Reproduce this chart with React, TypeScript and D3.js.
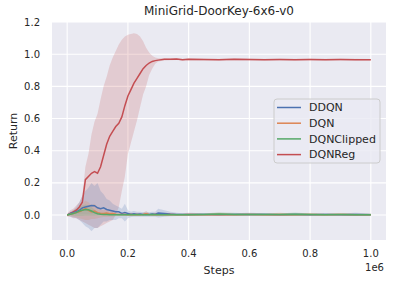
import React from "react";
import * as d3 from "d3";

const title = "MiniGrid-DoorKey-6x6-v0";
const seriesNames = ["DDQN", "DQN", "DQNClipped", "DQNReg"];
const seriesColors = ["#4c72b0", "#dd8452", "#55a868", "#c44e52"];
const xTicks = [0, 0.2, 0.4, 0.6, 0.8, 1.0];
const yTicks = [0, 0.2, 0.4, 0.6, 0.8, 1.0, 1.2];

// steps in units of 1e6
const steps = [0, 0.01, 0.02, 0.03, 0.04, 0.05, 0.06, 0.07, 0.08, 0.09, 0.10, 0.11, 0.12, 0.13, 0.14, 0.15, 0.16, 0.17, 0.18, 0.19, 0.20, 0.21, 0.22, 0.23, 0.24, 0.25, 0.26, 0.27, 0.28, 0.29, 0.30, 0.32, 0.34, 0.36, 0.38, 0.40, 0.45, 0.50, 0.55, 0.60, 0.65, 0.70, 0.75, 0.80, 0.85, 0.90, 0.95, 1.00];

const ddqnMean = [0, 0.01, 0.015, 0.02, 0.03, 0.045, 0.05, 0.055, 0.06, 0.058, 0.045, 0.04, 0.045, 0.035, 0.03, 0.025, 0.02, 0.02, 0.01, 0.015, 0.01, 0.005, 0.008, 0.005, 0.006, 0.004, 0.005, 0.004, 0.006, 0.005, 0.012, 0.01, 0.006, 0.004, 0.003, 0.004, 0.003, 0.002, 0.003, 0.004, 0.003, 0.002, 0.003, 0.002, 0.003, 0.002, 0.004, 0.002];
const ddqnUpper = [0, 0.02, 0.03, 0.05, 0.08, 0.12, 0.15, 0.17, 0.2, 0.18, 0.2, 0.15, 0.13, 0.1, 0.09, 0.07, 0.06, 0.05, 0.04, 0.07, 0.03, 0.02, 0.025, 0.02, 0.02, 0.018, 0.02, 0.018, 0.02, 0.02, 0.04, 0.03, 0.02, 0.015, 0.012, 0.014, 0.012, 0.01, 0.012, 0.014, 0.012, 0.01, 0.012, 0.01, 0.012, 0.01, 0.014, 0.01];
const ddqnLower = [0, -0.01, -0.015, -0.02, -0.03, -0.05, -0.07, -0.08, -0.1, -0.08, -0.08, -0.06, -0.04, -0.04, -0.03, -0.03, -0.03, -0.02, -0.02, -0.04, -0.02, -0.012, -0.01, -0.01, -0.01, -0.01, -0.01, -0.01, -0.01, -0.01, -0.015, -0.01, -0.008, -0.006, -0.005, -0.006, -0.005, -0.005, -0.005, -0.006, -0.005, -0.005, -0.005, -0.005, -0.005, -0.005, -0.006, -0.005];

const dqnMean = [0, 0.005, 0.01, 0.015, 0.02, 0.03, 0.04, 0.03, 0.02, 0.025, 0.015, 0.01, 0.01, 0.012, 0.008, 0.01, 0.005, 0.004, 0.003, 0.003, 0.002, 0.003, 0.002, 0.003, 0.002, 0.004, 0.008, 0.003, 0.002, 0.003, 0.002, 0.002, 0.003, 0.002, 0.002, 0.003, 0.002, 0.004, 0.002, 0.003, 0.002, 0.004, 0.002, 0.003, 0.002, 0.003, 0.002, 0.002];
const dqnUpper = [0, 0.015, 0.03, 0.04, 0.05, 0.07, 0.09, 0.08, 0.06, 0.07, 0.05, 0.035, 0.03, 0.035, 0.025, 0.03, 0.02, 0.015, 0.012, 0.012, 0.01, 0.012, 0.01, 0.012, 0.01, 0.015, 0.025, 0.012, 0.01, 0.012, 0.01, 0.01, 0.012, 0.01, 0.01, 0.012, 0.01, 0.015, 0.01, 0.012, 0.01, 0.015, 0.01, 0.012, 0.01, 0.012, 0.01, 0.01];
const dqnLower = [0, -0.005, -0.01, -0.015, -0.02, -0.025, -0.03, -0.03, -0.025, -0.025, -0.02, -0.015, -0.012, -0.012, -0.01, -0.01, -0.008, -0.007, -0.006, -0.006, -0.005, -0.005, -0.005, -0.005, -0.005, -0.005, -0.006, -0.005, -0.005, -0.005, -0.005, -0.005, -0.005, -0.005, -0.005, -0.005, -0.005, -0.005, -0.005, -0.005, -0.005, -0.005, -0.005, -0.005, -0.005, -0.005, -0.005, -0.005];

const clipMean = [0, 0.005, 0.01, 0.015, 0.025, 0.03, 0.035, 0.033, 0.025, 0.015, 0.008, 0.005, 0.003, 0.003, 0.002, 0.002, 0.002, 0.002, 0.002, 0.002, 0.002, 0.002, 0.002, 0.002, 0.002, 0.002, 0.002, 0.002, 0.003, 0.002, 0.002, 0.002, 0.002, 0.002, 0.002, 0.002, 0.003, 0.006, 0.004, 0.003, 0.004, 0.003, 0.005, 0.003, 0.002, 0.003, 0.002, 0.002];
const clipUpper = [0, 0.012, 0.025, 0.035, 0.05, 0.06, 0.065, 0.06, 0.05, 0.035, 0.02, 0.014, 0.01, 0.01, 0.008, 0.008, 0.008, 0.008, 0.008, 0.008, 0.008, 0.008, 0.008, 0.008, 0.008, 0.008, 0.008, 0.008, 0.01, 0.008, 0.008, 0.008, 0.008, 0.008, 0.008, 0.008, 0.01, 0.018, 0.014, 0.01, 0.012, 0.01, 0.016, 0.01, 0.008, 0.01, 0.008, 0.008];
const clipLower = [0, -0.003, -0.005, -0.006, -0.006, -0.006, -0.005, -0.005, -0.005, -0.004, -0.003, -0.003, -0.003, -0.003, -0.003, -0.003, -0.003, -0.003, -0.003, -0.003, -0.003, -0.003, -0.003, -0.003, -0.003, -0.003, -0.003, -0.003, -0.003, -0.003, -0.003, -0.003, -0.003, -0.003, -0.003, -0.003, -0.003, -0.003, -0.003, -0.003, -0.003, -0.003, -0.003, -0.003, -0.003, -0.003, -0.003, -0.003];

const regMean = [0, 0.01, 0.02, 0.03, 0.05, 0.08, 0.22, 0.24, 0.26, 0.27, 0.26, 0.3, 0.37, 0.44, 0.49, 0.52, 0.55, 0.57, 0.61, 0.68, 0.74, 0.78, 0.82, 0.85, 0.88, 0.91, 0.93, 0.945, 0.955, 0.96, 0.963, 0.968, 0.968, 0.97, 0.966, 0.968, 0.967, 0.966, 0.968, 0.967, 0.966, 0.967, 0.966, 0.967, 0.966, 0.967, 0.966, 0.965];
const regUpper = [0.01, 0.03, 0.04, 0.06, 0.08, 0.12, 0.3, 0.38, 0.5, 0.58, 0.63, 0.72, 0.8, 0.86, 0.93, 0.98, 1.02, 1.06, 1.09, 1.11, 1.12, 1.125, 1.13, 1.125, 1.11, 1.08, 1.04, 1.01, 0.99, 0.98, 0.975, 0.975, 0.973, 0.975, 0.972, 0.973, 0.972, 0.971, 0.973, 0.972, 0.971, 0.972, 0.971, 0.972, 0.971, 0.972, 0.971, 0.97];
const regLower = [-0.01, -0.01, -0.02, -0.02, -0.03, -0.04, -0.05, -0.06, -0.07, -0.08, -0.08, -0.07, -0.06, -0.05, -0.04, -0.03, 0.0, 0.05, 0.15, 0.24, 0.38, 0.45, 0.52, 0.59, 0.67, 0.75, 0.8, 0.87, 0.91, 0.94, 0.955, 0.96, 0.962, 0.964, 0.96, 0.962, 0.961, 0.96, 0.962, 0.961, 0.96, 0.961, 0.96, 0.961, 0.96, 0.961, 0.96, 0.96];

const means = [ddqnMean, dqnMean, clipMean, regMean];
const uppers = [ddqnUpper, dqnUpper, clipUpper, regUpper];
const lowers = [ddqnLower, dqnLower, clipLower, regLower];

const W = 399, H = 284;
const L = 52, R = 386, T = 22, B = 240;

export default function App() {
  const x = d3.scaleLinear().domain([-0.05, 1.05]).range([L, R]);
  const y = d3.scaleLinear().domain([-0.155, 1.2]).range([B, T]);
  const font = "DejaVu Sans, sans-serif";
  const txt = "#262626";
  const drawOrder = [3, 0, 1, 2];
  return (
    <svg width={W} height={H} style={{ position: "absolute", left: 0, top: 0 }} fontFamily={font}>
      <rect x={0} y={0} width={W} height={H} fill="#ffffff" />
      <rect x={L} y={T} width={R - L} height={B - T} fill="#eaeaf2" />
      <defs>
        <clipPath id="plotclip"><rect x={L} y={T} width={R - L} height={B - T} /></clipPath>
      </defs>
      {xTicks.map((t) => (
        <line key={"gx" + t} x1={x(t)} x2={x(t)} y1={T} y2={B} stroke="#ffffff" strokeWidth={1.1} />
      ))}
      {yTicks.map((t) => (
        <line key={"gy" + t} x1={L} x2={R} y1={y(t)} y2={y(t)} stroke="#ffffff" strokeWidth={1.1} />
      ))}
      <g clipPath="url(#plotclip)">
        {drawOrder.map((i) => {
          const area = d3.area<number>()
            .x((_, j) => x(steps[j]))
            .y0((_, j) => y(lowers[i][j]))
            .y1((_, j) => y(uppers[i][j]));
          return <path key={"a" + i} d={area(steps) || ""} fill={seriesColors[i]} fillOpacity={0.2} stroke="none" />;
        })}
        {drawOrder.map((i) => {
          const line = d3.line<number>()
            .x((_, j) => x(steps[j]))
            .y((_, j) => y(means[i][j]));
          return <path key={"l" + i} d={line(steps) || ""} fill="none" stroke={seriesColors[i]} strokeWidth={1.5} />;
        })}
      </g>
      {xTicks.map((t) => (
        <text key={"tx" + t} x={x(t)} y={B + 17} textAnchor="middle" fontSize={10} fill={txt}>{t.toFixed(1)}</text>
      ))}
      {yTicks.map((t) => (
        <text key={"ty" + t} x={L - 12} y={y(t)} dy="0.35em" textAnchor="end" fontSize={10} fill={txt}>{t.toFixed(1)}</text>
      ))}
      <text x={R - 2} y={B + 31} textAnchor="end" fontSize={10} fill={txt}>1e6</text>
      <text x={(L + R) / 2} y={B + 34} textAnchor="middle" fontSize={11} fill={txt}>Steps</text>
      <text transform={`translate(${13},${(T + B) / 2}) rotate(-90)`} textAnchor="middle" dy="0.35em" fontSize={11} fill={txt}>Return</text>
      <text x={(L + R) / 2} y={T - 7} textAnchor="middle" fontSize={12} fill={txt}>{title}</text>
      <g>
        <rect x={274} y={99} width={106} height={64} rx={3} fill="#eaeaf2" fillOpacity={0.8} stroke="#cccccc" strokeWidth={1} />
        {seriesNames.map((n, i) => (
          <g key={n}>
            <line x1={277} x2={301} y1={107.5 + i * 15.7} y2={107.5 + i * 15.7} stroke={seriesColors[i]} strokeWidth={1.5} />
            <text x={309} y={107.5 + i * 15.7} dy="0.35em" fontSize={11} fill={txt}>{n}</text>
          </g>
        ))}
      </g>
    </svg>
  );
}
